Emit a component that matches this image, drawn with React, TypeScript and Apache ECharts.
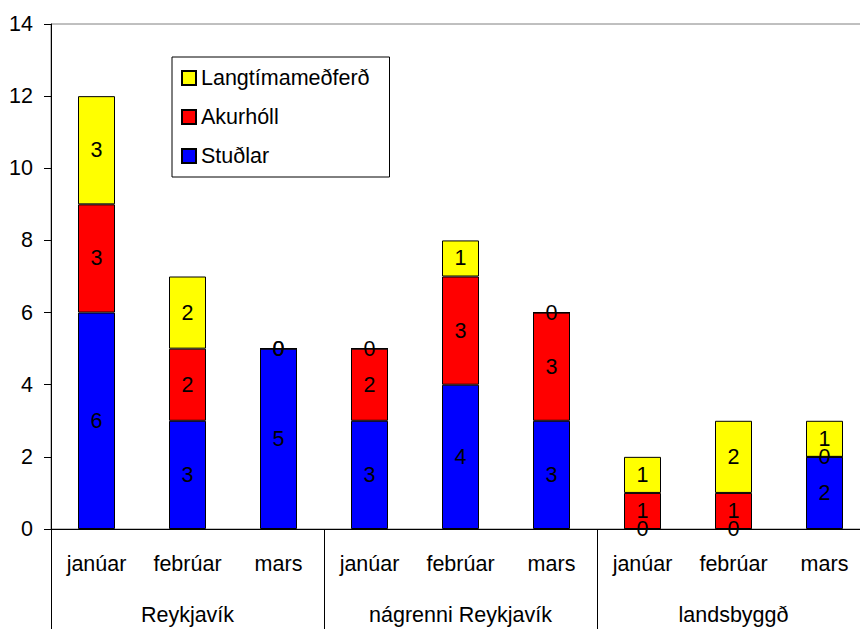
import React, { useEffect, useRef } from "react";
import * as echarts from "echarts";

const months = ["janúar", "febrúar", "mars", "janúar", "febrúar", "mars", "janúar", "febrúar", "mars"];
const groups = ["Reykjavík", "nágrenni Reykjavík", "landsbyggð"];
const studlar = [6, 3, 5, 3, 4, 3, 0, 0, 2];
const akurholl = [3, 2, 0, 2, 3, 3, 1, 1, 0];
const langtima = [3, 2, 0, 0, 1, 0, 1, 2, 1];
const yTicks = { min: 0, max: 14, interval: 2 };

const FONT = "'Liberation Sans', Arial, sans-serif";
const FS = 21.5;

export default function App() {
  const ref = useRef<HTMLDivElement>(null);
  useEffect(() => {
    if (!ref.current) return;
    const chart = echarts.init(ref.current, null, { renderer: "svg" });
    const label = {
      show: true,
      position: "inside",
      color: "#000",
      fontSize: FS,
      fontFamily: FONT,
    };
    const mk = (name: string, data: number[], color: string) => ({
      name,
      type: "bar",
      stack: "a",
      data,
      barWidth: 37,
      itemStyle: { color, borderColor: "#000", borderWidth: 1 },
      label,
      emphasis: { disabled: true },
    });
    chart.setOption({
      animation: false,
      textStyle: { fontFamily: FONT },
      grid: {
        left: 51,
        right: 0,
        top: 24,
        bottom: 100,
        show: true,
        borderColor: "#808080",
        borderWidth: 1,
        backgroundColor: "transparent",
      },
      legend: {
        data: ["Langtímameðferð", "Akurhóll", "Stuðlar"],
        orient: "vertical",
        left: 172,
        top: 57,
        backgroundColor: "#fff",
        borderColor: "#000",
        borderWidth: 1,
        padding: [10, 20, 10, 9],
        itemGap: 17,
        itemWidth: 14,
        itemHeight: 14,
        icon: "rect",
        textStyle: { fontSize: FS, color: "#000", fontFamily: FONT },
      },
      xAxis: [
        {
          type: "category",
          data: months,
          axisLine: { show: true, lineStyle: { color: "#000", width: 1 } },
          axisTick: { show: false },
          axisLabel: { interval: 0, fontSize: FS, color: "#000", margin: 24, fontFamily: FONT },
        },
        {
          type: "category",
          data: groups,
          position: "bottom",
          axisLine: { show: false },
          axisTick: { show: true, length: 100, lineStyle: { color: "#000", width: 1 } },
          axisLabel: { interval: 0, fontSize: FS, color: "#000", margin: 75, fontFamily: FONT },
        },
      ],
      yAxis: {
        type: "value",
        min: yTicks.min,
        max: yTicks.max,
        interval: yTicks.interval,
        axisLine: { show: true, lineStyle: { color: "#000", width: 1 } },
        axisTick: { show: true, length: 7, lineStyle: { color: "#000" } },
        splitLine: { show: false },
        axisLabel: { fontSize: FS, color: "#000", margin: 18, fontFamily: FONT },
      },
      series: [
        mk("Stuðlar", studlar, "#0000FF"),
        mk("Akurhóll", akurholl, "#FF0000"),
        mk("Langtímameðferð", langtima, "#FFFF00"),
      ],
    });
    return () => chart.dispose();
  }, []);
  return (
    <div style={{ position: "fixed", left: 0, top: 0, width: 860, height: 629, overflow: "hidden", background: "#fff" }}>
      <div ref={ref} style={{ width: 870, height: 629 }} />
    </div>
  );
}
